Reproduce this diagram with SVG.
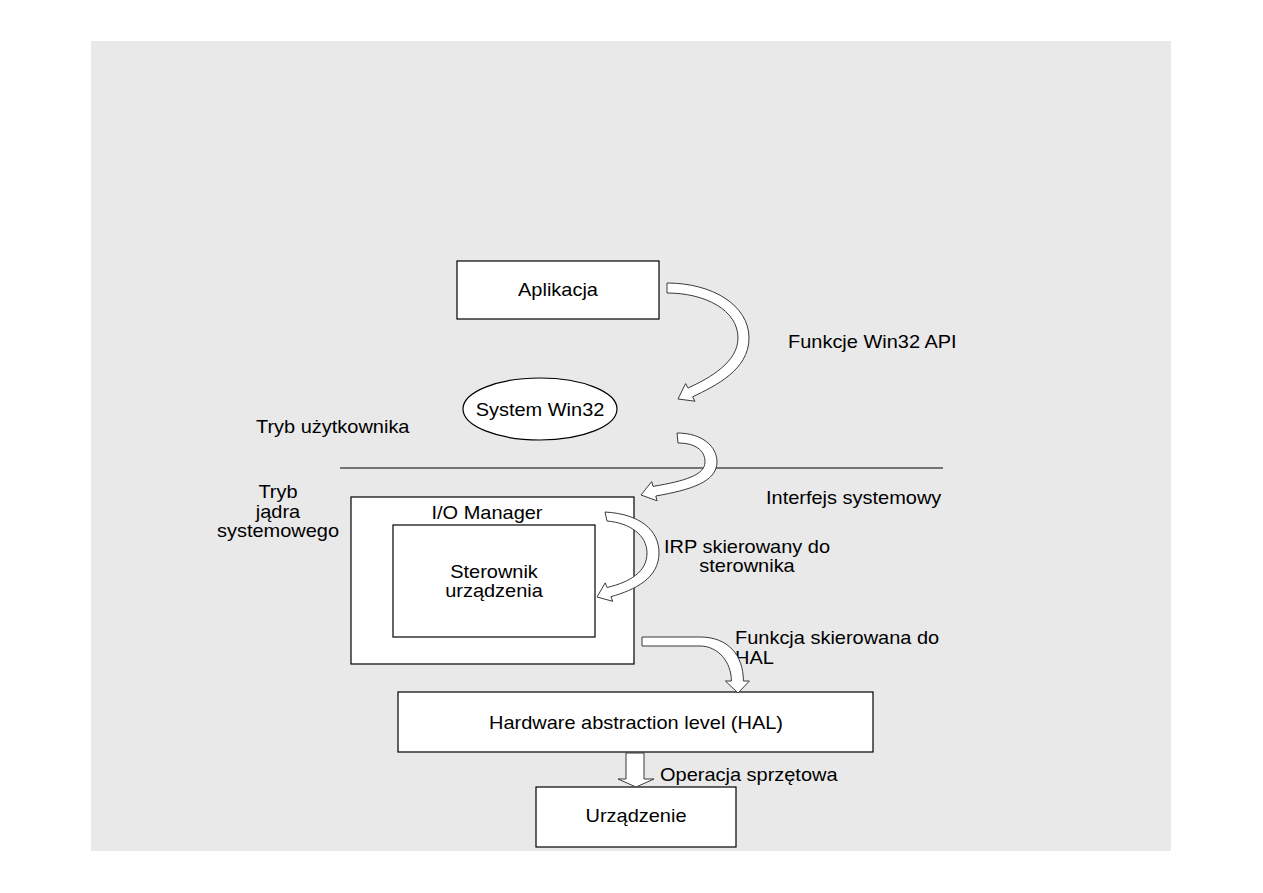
<svg xmlns="http://www.w3.org/2000/svg" width="1263" height="893" viewBox="0 0 1263 893">
<style>
.bg{fill:#e9e9e9}
.box{fill:#fff;stroke:#000;stroke-width:1.2}
.arr{fill:#fff;stroke:#3a3a3a;stroke-width:1}
text{font-family:"Liberation Sans",Arial,sans-serif;font-size:18px;fill:#000}
.c{text-anchor:middle}
.s{text-anchor:start}
</style>
<rect class="bg" x="91" y="41" width="1080" height="810"/>
<line x1="340" y1="468" x2="943" y2="468" stroke="#000" stroke-width="1.2"/>
<g id="labels">
<text class="s" transform="translate(788 348) scale(1.11 1)">Funkcje Win32 API</text>
<text class="s" transform="translate(256 433) scale(1.11 1)">Tryb użytkownika</text>
<text class="c" transform="translate(278 498) scale(1.11 1)">Tryb</text>
<text class="c" transform="translate(278 518) scale(1.11 1)">jądra</text>
<text class="c" transform="translate(278 537) scale(1.11 1)">systemowego</text>
<text class="s" transform="translate(766 504) scale(1.11 1)">Interfejs systemowy</text>
<text class="c" transform="translate(747 553) scale(1.11 1)">IRP skierowany do</text>
<text class="c" transform="translate(747 572) scale(1.11 1)">sterownika</text>
<text class="s" transform="translate(735 644) scale(1.11 1)">Funkcja skierowana do</text>
<text class="s" transform="translate(735 664) scale(1.11 1)">HAL</text>
<text class="s" transform="translate(660 781) scale(1.11 1)">Operacja sprzętowa</text>
</g>
<g id="aplikacja">
<rect class="box" x="457" y="261" width="202" height="58"/>
<text class="c" transform="translate(558 296) scale(1.11 1)">Aplikacja</text>
</g>
<g id="win32">
<ellipse class="box" cx="540" cy="409" rx="77" ry="31"/>
<text class="c" transform="translate(540 416) scale(1.11 1)">System Win32</text>
</g>
<g id="iomanager">
<rect class="box" x="351" y="497" width="283" height="167"/>
<text class="c" transform="translate(487 519) scale(1.11 1)">I/O Manager</text>
</g>
<g id="sterownik">
<rect class="box" x="393" y="525" width="202" height="112"/>
<text class="c" transform="translate(494 578) scale(1.11 1)">Sterownik</text>
<text class="c" transform="translate(494 597) scale(1.11 1)">urządzenia</text>
</g>
<g id="hal">
<rect class="box" x="398" y="692" width="475" height="60"/>
<text class="c" transform="translate(636 729) scale(1.11 1)">Hardware abstraction level (HAL)</text>
</g>
<g id="urzadzenie">
<rect class="box" x="536" y="787" width="200" height="60"/>
<text class="c" transform="translate(636 822) scale(1.11 1)">Urządzenie</text>
</g>
<g id="connectors">
<path class="arr" d="M667,283 C712,283 749,305 749,338 C749,370 715,386 692.6,396.8 L695,401.2 L678,399 L685.6,383.6 L688,388 C710,378 738,362 738,338 C738,310 705,293 667,293 Z"/>
<path class="arr" d="M677,433 C703,433 717,447 717,462 C717,482 690,490 655.8,496 L657.1,500.8 L641,495 L651.7,481.6 L653,486.4 C685,481 705,475 705,462 C705,450 695,443 678,443 Z"/>
<path class="arr" d="M605,512 C640,514 659,530 659,553 C659,578 635,590 610.9,596.7 L612.8,601.3 L597,597 L605.2,582.9 L607.1,587.5 C630,582 647,572 647,553 C647,535 630,523 607,521 Z"/>
<path class="arr" d="M642,637 L700,637 C728,637 743.4,655 743.4,681 L749.4,681 L738,693 L725.4,681 L731.4,681 C731.4,662 718,646 700,646 L642,646 Z"/>
<path class="arr" d="M626,753 L644,753 L644,779 L654,779 L636,787 L618,779 L626,779 Z"/>
</g>
</svg>
